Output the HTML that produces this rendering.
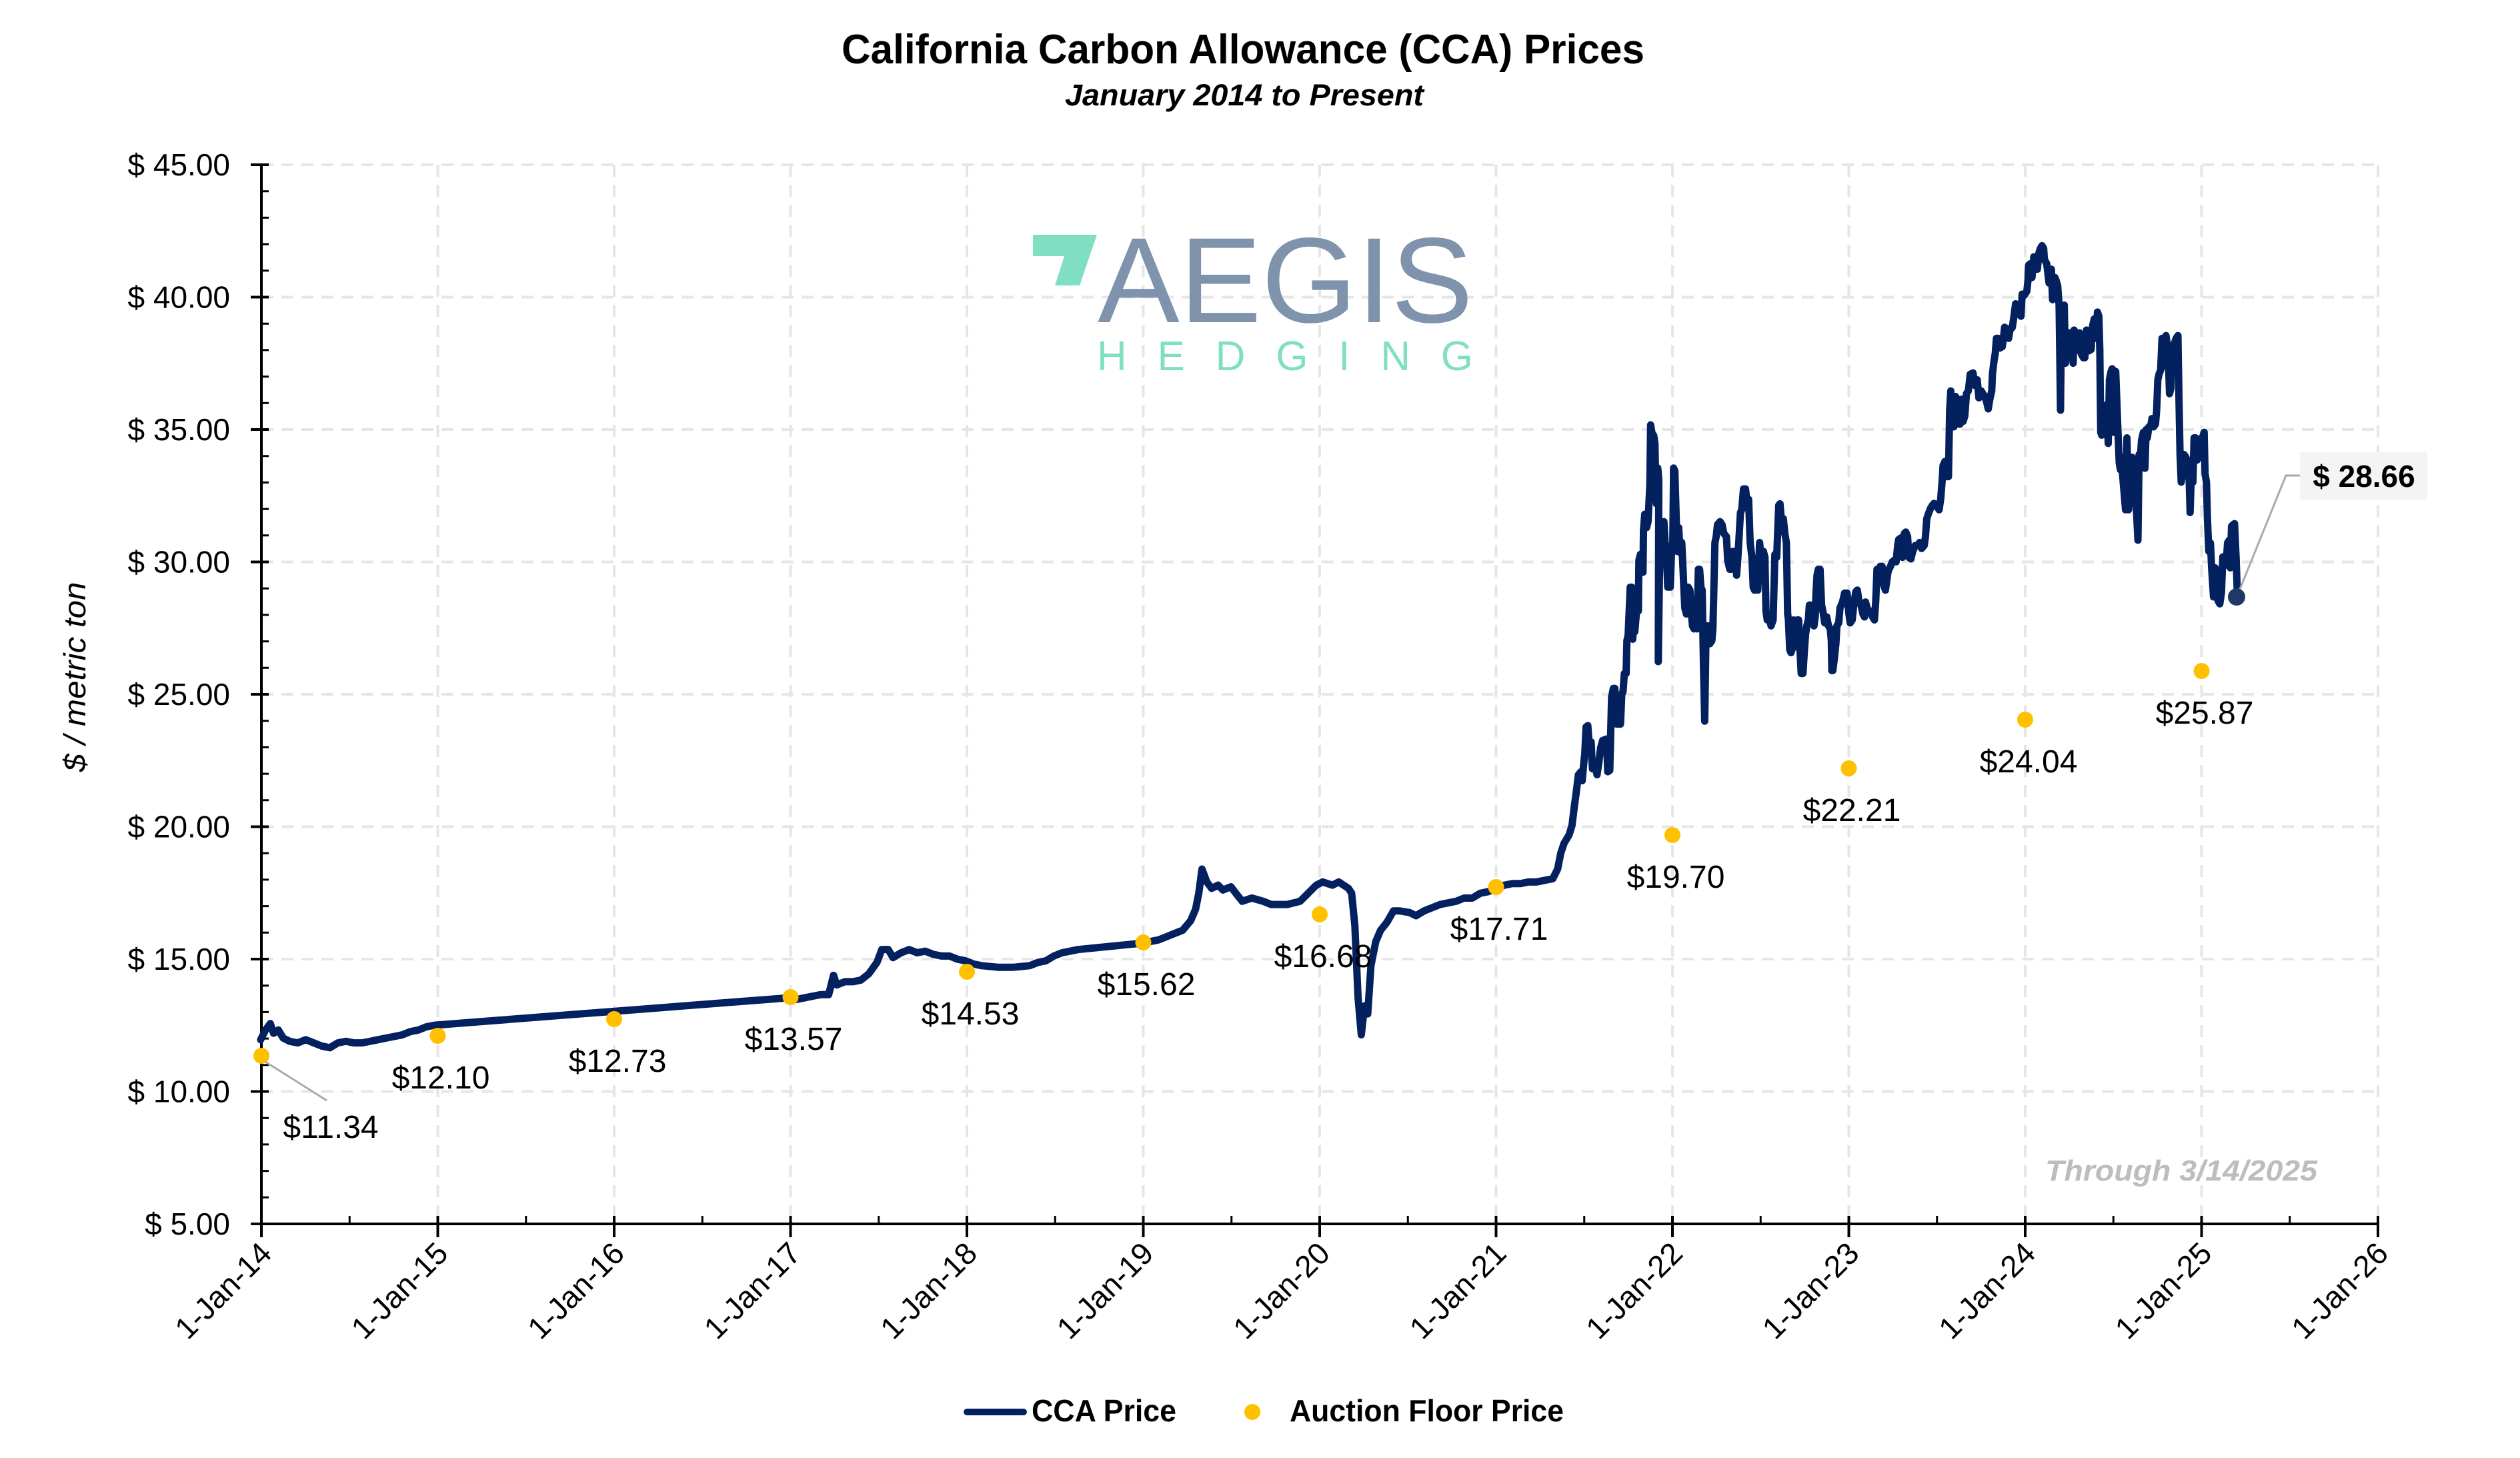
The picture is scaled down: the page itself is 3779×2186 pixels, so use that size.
<!DOCTYPE html>
<html><head><meta charset="utf-8"><style>
html,body{margin:0;padding:0;background:#fff;}
svg{display:block;}
text{font-family:"Liberation Sans",Arial,sans-serif;}
</style></head><body>
<svg width="3779" height="2186" viewBox="0 0 3779 2186" xmlns="http://www.w3.org/2000/svg">
<rect width="3779" height="2186" fill="#fff"/>
<text x="1864" y="95" font-size="62" font-weight="bold" text-anchor="middle" textLength="1204" lengthAdjust="spacingAndGlyphs">California Carbon Allowance (CCA) Prices</text>
<text x="1866" y="158" font-size="45" font-weight="bold" font-style="italic" text-anchor="middle" textLength="538" lengthAdjust="spacingAndGlyphs">January 2014 to Present</text>

<g stroke="#e6e6e6" stroke-width="4" stroke-dasharray="18 12">
<line x1="392" x2="3567" y1="247" y2="247"/><line x1="392" x2="3567" y1="445.5" y2="445.5"/>
<line x1="392" x2="3567" y1="644" y2="644"/><line x1="392" x2="3567" y1="842.5" y2="842.5"/>
<line x1="392" x2="3567" y1="1041" y2="1041"/><line x1="392" x2="3567" y1="1239.5" y2="1239.5"/>
<line x1="392" x2="3567" y1="1438" y2="1438"/><line x1="392" x2="3567" y1="1636.5" y2="1636.5"/>
<line x1="656.5" x2="656.5" y1="247" y2="1835"/><line x1="921" x2="921" y1="247" y2="1835"/>
<line x1="1185.5" x2="1185.5" y1="247" y2="1835"/><line x1="1450" x2="1450" y1="247" y2="1835"/>
<line x1="1714.5" x2="1714.5" y1="247" y2="1835"/><line x1="1979" x2="1979" y1="247" y2="1835"/>
<line x1="2243.5" x2="2243.5" y1="247" y2="1835"/><line x1="2508" x2="2508" y1="247" y2="1835"/>
<line x1="2772.5" x2="2772.5" y1="247" y2="1835"/><line x1="3037" x2="3037" y1="247" y2="1835"/>
<line x1="3301.5" x2="3301.5" y1="247" y2="1835"/><line x1="3566" x2="3566" y1="247" y2="1835"/>
</g>

<polygon points="1549,352 1645,352 1619,428 1582,428 1596,384 1549,384" fill="#80dfc2"/>
<text x="1646" y="483" font-size="182" fill="#7f93ad" textLength="563" lengthAdjust="spacingAndGlyphs">AEGIS</text>
<text x="1645" y="555" font-size="62" fill="#80dfc2" textLength="564" lengthAdjust="spacing">HEDGING</text>

<g stroke="#000" stroke-width="4">
<line x1="392" y1="245" x2="392" y2="1837"/>
<line x1="390" y1="1835" x2="3567" y2="1835"/>
<line x1="376" x2="403" y1="247" y2="247"/><line x1="376" x2="403" y1="445.5" y2="445.5"/>
<line x1="376" x2="403" y1="644" y2="644"/><line x1="376" x2="403" y1="842.5" y2="842.5"/>
<line x1="376" x2="403" y1="1041" y2="1041"/><line x1="376" x2="403" y1="1239.5" y2="1239.5"/>
<line x1="376" x2="403" y1="1438" y2="1438"/><line x1="376" x2="403" y1="1636.5" y2="1636.5"/>
<line x1="376" x2="392" y1="1835" y2="1835"/>
</g>
<path stroke="#000" stroke-width="3" d="
M392 286.7h11M392 326.4h11M392 366.1h11M392 405.8h11
M392 485.2h11M392 524.9h11M392 564.6h11M392 604.3h11
M392 683.7h11M392 723.4h11M392 763.1h11M392 802.8h11
M392 882.2h11M392 921.9h11M392 961.6h11M392 1001.3h11
M392 1080.7h11M392 1120.4h11M392 1160.1h11M392 1199.8h11
M392 1279.2h11M392 1318.9h11M392 1358.6h11M392 1398.3h11
M392 1477.7h11M392 1517.4h11M392 1557.1h11M392 1596.8h11
M392 1676.2h11M392 1715.9h11M392 1755.6h11M392 1795.3h11"/>
<path stroke="#000" stroke-width="4" d="
M392 1823v32M656.5 1823v32M921 1823v32M1185.5 1823v32M1450 1823v32M1714.5 1823v32M1979 1823v32M2243.5 1823v32M2508 1823v32M2772.5 1823v32M3037 1823v32M3301.5 1823v32M3566 1823v32"/>
<path stroke="#000" stroke-width="3" d="
M524.25 1823v12M788.75 1823v12M1053.25 1823v12M1317.75 1823v12M1582.25 1823v12M1846.75 1823v12M2111.25 1823v12M2375.75 1823v12M2640.25 1823v12M2904.75 1823v12M3169.25 1823v12M3433.75 1823v12"/>

<g font-size="46" text-anchor="end">
<text x="345" y="263">$ 45.00</text><text x="345" y="461.5">$ 40.00</text>
<text x="345" y="660">$ 35.00</text><text x="345" y="858.5">$ 30.00</text>
<text x="345" y="1057">$ 25.00</text><text x="345" y="1255.5">$ 20.00</text>
<text x="345" y="1454">$ 15.00</text><text x="345" y="1652.5">$ 10.00</text>
<text x="345" y="1851">$ 5.00</text>
</g>
<text transform="translate(128,1015) rotate(-90)" font-size="46" font-style="italic" text-anchor="middle" textLength="285" lengthAdjust="spacingAndGlyphs">$ / metric ton</text>

<g font-size="46" text-anchor="end">
<text transform="translate(410,1882) rotate(-45)">1-Jan-14</text>
<text transform="translate(674.5,1882) rotate(-45)">1-Jan-15</text>
<text transform="translate(939,1882) rotate(-45)">1-Jan-16</text>
<text transform="translate(1203.5,1882) rotate(-45)">1-Jan-17</text>
<text transform="translate(1468,1882) rotate(-45)">1-Jan-18</text>
<text transform="translate(1732.5,1882) rotate(-45)">1-Jan-19</text>
<text transform="translate(1997,1882) rotate(-45)">1-Jan-20</text>
<text transform="translate(2261.5,1882) rotate(-45)">1-Jan-21</text>
<text transform="translate(2526,1882) rotate(-45)">1-Jan-22</text>
<text transform="translate(2790.5,1882) rotate(-45)">1-Jan-23</text>
<text transform="translate(3055,1882) rotate(-45)">1-Jan-24</text>
<text transform="translate(3319.5,1882) rotate(-45)">1-Jan-25</text>
<text transform="translate(3584,1882) rotate(-45)">1-Jan-26</text>
</g>

<g fill="none" stroke="#03215f" stroke-width="11" stroke-linejoin="round" stroke-linecap="round">
<path vector-effect="non-scaling-stroke" transform="scale(2.413)" d="M162 646 L165 640 168 636 170 642 173 640 176 645 180 647 185 648 190 646 195 648 200 650 205 651 210 648 215 647 220 648 225 648 230 647 235 646 240 645 245 644 250 643 255 641 260 640 265 638 270 637 L490 620 495 621 500 620 505 619 510 618 515 618 518 606 520 612 525 610 530 610 535 609 540 605 545 598 548 590 552 590 555 595 560 592 565 590 570 592 575 591 580 593 585 594 590 594 595 596 600 597 605 599 610 600 620 601 630 601 640 600 645 598 650 597 655 594 660 592 670 590 680 589 690 588 700 587 710 586 720 584 730 580 735 578 740 572 743 565 745 555 747 540 750 548 753 552 757 550 760 553 765 551 768 555 772 560 778 558 785 560 790 562 800 562 808 560 812 556 818 550 822 548 828 550 832 548 838 552 840 555 842 575 844 620 846 643 848 625 850 630 852 600 855 585 858 578 862 573 866 566 870 566 876 567 880 569 885 566 890 564 895 562 900 561 905 560 910 558 915 558 920 555 925 554 930 552 935 550 940 549 945 549 950 548 955 548 960 547 965 546 968 540 970 530 972 524 975 519"/>
<path vector-effect="non-scaling-stroke" transform="translate(2300,550) scale(0.3827,0.4464)" d="M140 1568 L150 1540 160 1470 165 1440 175 1370 185 1360 190 1390 195 1340 200 1300 205 1210 212 1205 218 1280 225 1260 230 1350 240 1340 248 1370 255 1330 262 1280 270 1255 285 1250 290 1360 298 1355 305 1110 312 1080 318 1080 325 1200 340 1200 345 1100 350 1090 355 1030 362 1030 365 920 370 900 375 800 378 740 384 740 388 915 392 850 396 890 400 850 405 800 410 820 412 650 418 630 425 690 428 690 430 550 435 495 440 495 442 540 448 520 455 395 458 195 463 220 466 320 470 230 475 258 478 400 481 460 486 340 490 380 488 990 495 540 500 560 505 530 510 520 515 590 520 640 525 740 530 660 535 740 540 620 545 590 548 340 553 350 558 500 562 620 568 540 572 600 575 625 580 590 585 680 588 740 592 810 598 830 605 740 612 750 618 830 622 870 628 880 635 810 640 880 645 680 650 680 655 740 660 750 665 1000 670 1190 675 900 680 870 685 870 690 930 698 920 702 880 706 740 710 590 715 570 720 530 730 520 738 530 745 560 755 570 760 650 768 680 775 680 780 620 790 620 795 700 800 640 810 490 815 480 822 410 830 410 835 450 842 445 848 590 855 640 860 740 865 750 870 700 878 750 885 590 892 650 900 620 906 640 910 820 915 850 922 840 930 870 938 850 945 630 952 640 960 465 965 460 972 530 978 510 984 560 990 590 995 830 998 850 1003 950 1008 960 1012 950 1018 850 1025 940 1028 930 1032 850 1038 850 1042 930 1048 1030 1055 1030 1060 960 1065 900 1070 870 1076 850 1080 800 1085 800 1092 860 1098 870 1103 840 1106 760 1110 700 1115 680 1122 680 1128 800 1135 830 1140 860 1148 840 1155 870 1162 880 1166 920 1168 1020 1172 1020 1178 980 1184 930 1188 870 1195 860 1200 810 1210 790 1218 760 1228 760 1235 830 1240 860 1248 850 1254 800 1262 755 1268 750 1275 790 1282 800 1290 830 1296 840 1300 790 1310 820 1318 820 1328 840 1335 850 1340 790 1345 680 1352 680 1358 670 1365 670 1370 730 1378 750 1383 720 1388 690 1392 680 1398 670 1405 655 1412 650 1420 655 1426 600 1430 580 1438 575 1445 640 1452 560 1458 555 1465 570 1470 640 1478 645 1485 620 1495 600 1505 600 1512 590 1520 610 1530 600 1535 570 1540 510 1548 490 1555 475 1562 465 1568 460"/>
<path vector-effect="non-scaling-stroke" transform="translate(2850,300) scale(0.3508,0.4146)" d="M143 1097 L150 1100 165 1120 172 1080 178 1015 182 960 190 945 198 1000 205 1000 210 760 215 690 220 820 228 820 235 710 242 720 248 810 255 810 262 720 268 800 275 780 282 700 290 690 298 630 310 625 318 670 328 650 335 715 345 690 352 700 360 710 368 730 375 755 382 720 390 690 393 630 400 580 405 555 410 500 418 500 425 535 435 530 440 500 445 460 455 465 462 500 468 470 478 460 485 420 492 375 500 380 508 410 515 420 520 340 528 345 540 330 545 290 548 235 555 230 562 280 570 205 578 210 585 250 592 190 598 175 605 165 612 175 615 215 625 230 635 300 645 250 650 360 660 280 665 290 672 310 678 380 684 760 686 590 692 400 700 380 705 590 712 520 720 480 725 560 730 490 738 590 742 470 748 480 756 510 765 480 770 550 775 560 782 570 788 570 795 470 800 480 806 545 815 540 820 460 828 430 835 500 842 405 848 420 852 540 856 840 860 850 865 800 870 760 876 780 882 740 888 880 893 650 900 620 905 610 912 840 920 620 928 800 935 950 940 975 945 930 950 1000 955 1050 962 1120 968 860 975 1120 982 980 990 930 995 1050 1000 1090 1008 1110 1015 1230 1020 920 1025 940 1030 870 1038 840 1045 970 1050 830 1055 860 1062 820 1070 815 1075 790 1082 820 1090 810 1095 760 1100 650 1105 630 1112 615 1118 500 1125 590 1130 600 1135 490 1140 520 1145 570 1150 700 1156 680 1160 550 1165 560 1170 520 1178 500 1186 490 1190 700 1195 920 1200 1020 1206 980 1212 920 1220 930 1225 1000 1232 950 1238 1130 1245 940 1250 1020 1255 860 1262 860 1268 940 1275 930 1282 880 1290 860 1298 840 1302 990 1308 1020 1312 1150 1318 1270 1325 1240 1330 1330 1338 1435 1345 1330 1352 1410 1358 1450 1365 1460 1372 1420 1378 1290 1385 1300 1392 1320 1398 1240 1405 1230 1410 1330 1415 1180 1420 1175 1428 1170 1435 1300 1440 1430"/>
</g>

<g fill="#ffc000">
<circle cx="392" cy="1583" r="12"/><circle cx="656.5" cy="1553" r="12"/>
<circle cx="921" cy="1528" r="12"/><circle cx="1185.5" cy="1495" r="12"/>
<circle cx="1450" cy="1457" r="12"/><circle cx="1714.5" cy="1413" r="12"/>
<circle cx="1979" cy="1371" r="12"/><circle cx="2243.5" cy="1330" r="12"/>
<circle cx="2508" cy="1252" r="12"/><circle cx="2772.5" cy="1152" r="12"/>
<circle cx="3037" cy="1079" r="12"/><circle cx="3301.5" cy="1006" r="12"/>
</g>
<line x1="398" y1="1592" x2="490" y2="1650" stroke="#aaa" stroke-width="3"/>
<g font-size="48" text-anchor="middle">
<text x="496" y="1706">$11.34</text>
<text x="661" y="1632">$12.10</text>
<text x="926" y="1607">$12.73</text>
<text x="1190" y="1574">$13.57</text>
<text x="1455" y="1536">$14.53</text>
<text x="1719" y="1492">$15.62</text>
<text x="1984" y="1450">$16.68</text>
<text x="2248" y="1409">$17.71</text>
<text x="2513" y="1331">$19.70</text>
<text x="2777" y="1231">$22.21</text>
<text x="3042" y="1158">$24.04</text>
<text x="3306" y="1085">$25.87</text>
</g>

<polyline points="3355,893 3428,713 3449,713" fill="none" stroke="#aaa" stroke-width="3"/>
<circle cx="3354" cy="895" r="13" fill="#1f3966"/>
<rect x="3449" y="678" width="191" height="71" fill="#f4f4f4"/>
<text x="3545" y="730" font-size="46" font-weight="bold" text-anchor="middle">$ 28.66</text>

<text x="3271" y="1770" font-size="44" font-weight="bold" font-style="italic" fill="#bdbdbd" text-anchor="middle" textLength="408" lengthAdjust="spacingAndGlyphs">Through 3/14/2025</text>

<line x1="1450" y1="2117" x2="1535" y2="2117" stroke="#03215f" stroke-width="10" stroke-linecap="round"/>
<text x="1547" y="2131" font-size="46" font-weight="bold" textLength="217" lengthAdjust="spacingAndGlyphs">CCA Price</text>
<circle cx="1878" cy="2117" r="12" fill="#ffc000"/>
<text x="1934" y="2131" font-size="46" font-weight="bold" textLength="411" lengthAdjust="spacingAndGlyphs">Auction Floor Price</text>
</svg>
</body></html>
